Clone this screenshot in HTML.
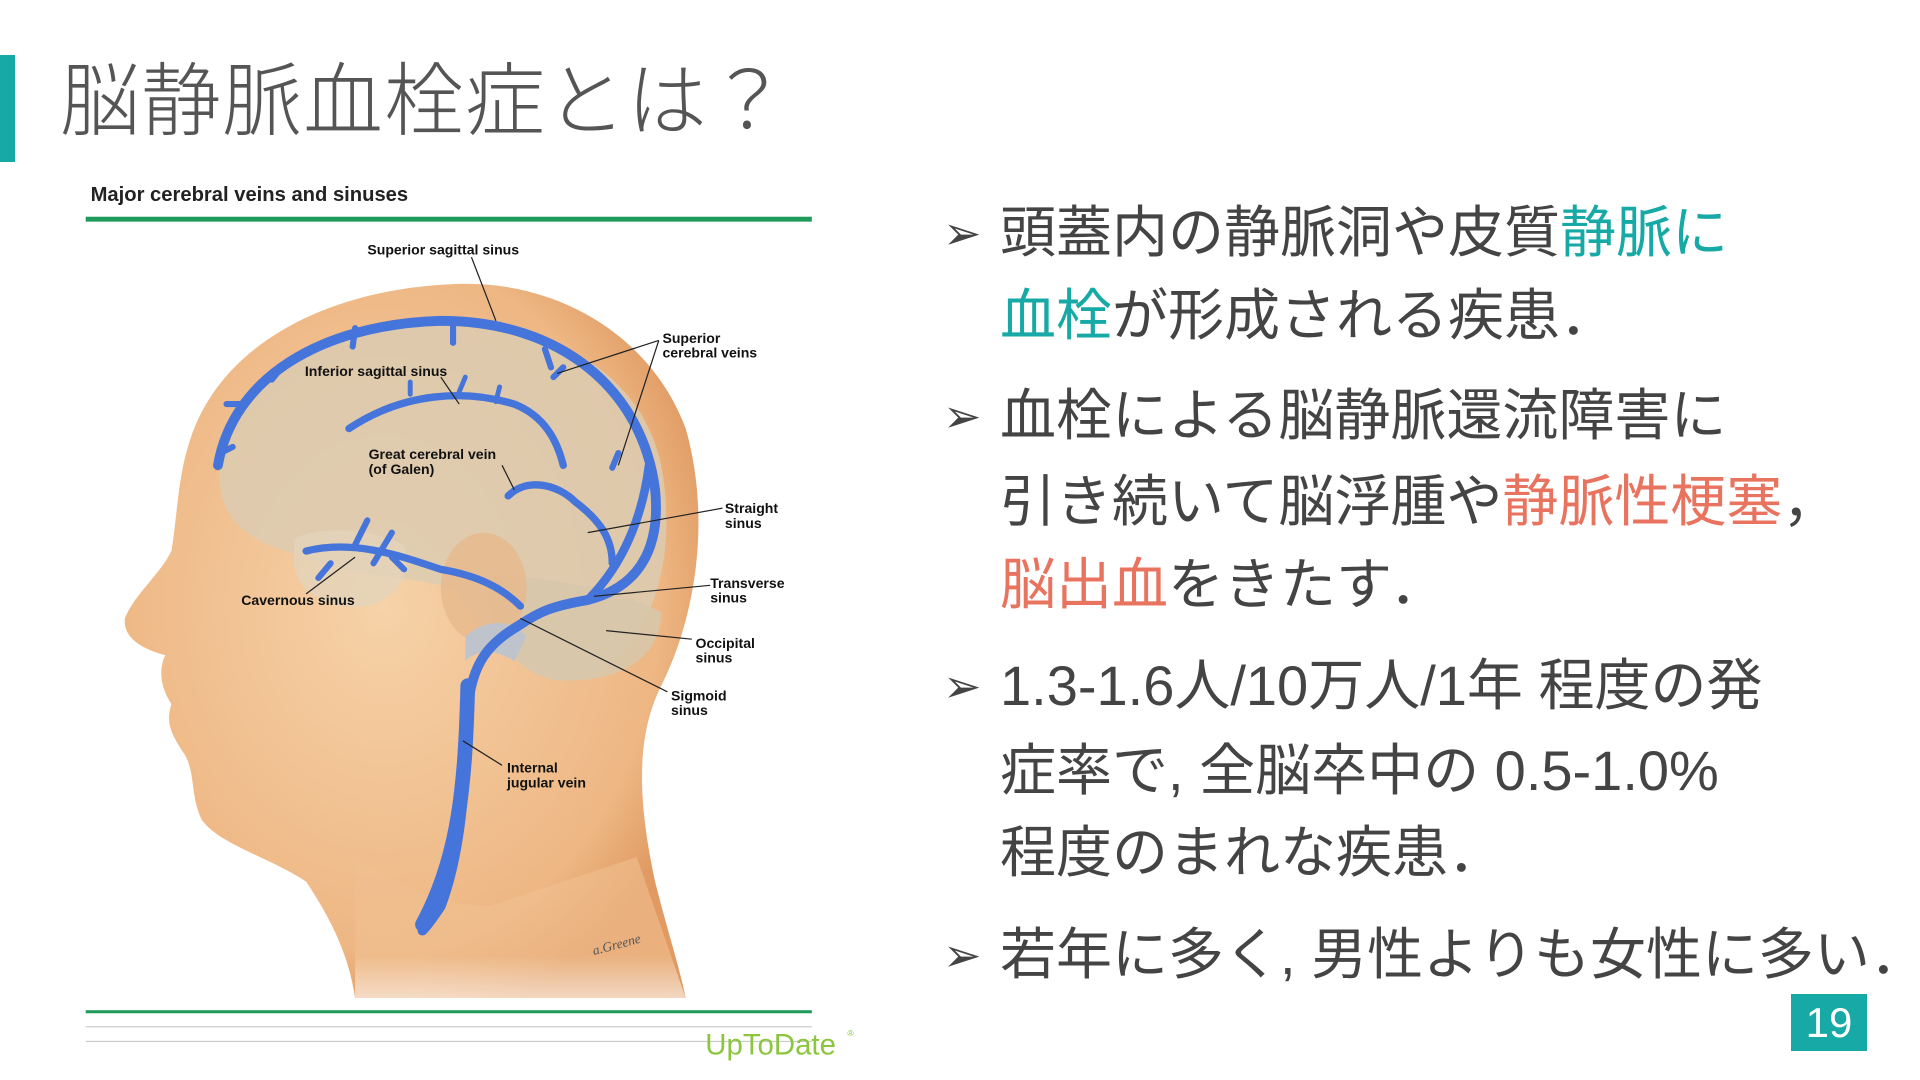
<!DOCTYPE html>
<html><head><meta charset="utf-8">
<style>
html,body{margin:0;padding:0;background:#fff;}
body{width:1920px;height:1080px;position:relative;overflow:hidden;font-family:"Liberation Sans","Noto Sans CJK JP",sans-serif;}
.bar{position:absolute;left:0;top:55px;width:15px;height:107px;background:#17a9a5;}
.title{position:absolute;left:60px;top:52px;font-size:80px;color:#555;font-weight:300;letter-spacing:1px;line-height:100px;}
.bl{position:absolute;left:943px;font-size:56px;color:#444;line-height:84px;white-space:nowrap;}
.bl .a{position:absolute;left:0;font-size:46px;}
.bl .t{position:absolute;left:57px;}
.c{color:#17a9a5}.r{color:#e8735f}
.pg{position:absolute;left:1791px;top:994px;width:76px;height:57px;background:#17a9a5;color:#fff;font-size:42px;text-align:center;line-height:57px;}
svg{position:absolute;left:0;top:0;}
</style></head><body>
<div class="bar"></div>
<div class="title">脳静脈血栓症とは？</div>

<svg width="1920" height="1080" viewBox="0 0 1568 882">
<defs>
<radialGradient id="sk" cx="0.45" cy="0.45" r="0.6"><stop offset="0" stop-color="#f6d2a8"/><stop offset="0.8" stop-color="#eeb784"/><stop offset="1" stop-color="#e09a62"/></radialGradient>
<linearGradient id="nk" x1="0" y1="0" x2="0" y2="1"><stop offset="0.7" stop-color="#f0c090"/><stop offset="1" stop-color="#fff"/></linearGradient>
</defs>
<text x="74" y="164" font-size="16.5" font-weight="bold" fill="#222" font-family="Liberation Sans">Major cerebral veins and sinuses</text>
<rect x="70" y="177" width="593" height="4" fill="#1e9b5a"/>
<path d="M370 232 C450 228 530 270 560 350 C580 420 570 500 540 560 C520 600 520 650 535 720 C545 760 555 790 560 815 L290 815 C285 780 270 750 250 720 C220 700 180 690 165 670 C155 650 160 630 150 615 C140 600 135 590 140 575 C130 560 130 545 135 535 C115 530 100 520 102 505 C110 485 130 470 140 450 C145 420 145 390 155 360 C180 280 270 236 370 232 Z" fill="url(#sk)"/>
<path d="M290 700 C320 720 360 740 400 740 L520 700 L560 815 L290 815 Z" fill="url(#nk)" opacity="0.6"/>
<path d="M180 400 C170 330 230 280 330 268 C430 258 520 290 540 380 C555 460 530 540 470 555 C430 560 400 520 370 480 C330 470 280 470 250 455 C210 445 185 430 180 400 Z" fill="#dccbb2" opacity="0.85"/>
<path d="M400 470 C440 470 500 480 540 500 C540 540 500 560 450 555 C410 545 395 500 400 470 Z" fill="#d8c6ab" opacity="0.9"/>
<path d="M240 440 C260 430 300 430 330 445 C340 470 320 490 300 495 C265 500 240 480 240 460 Z" fill="#e4d3ba" opacity="0.8"/>
<ellipse cx="395" cy="480" rx="35" ry="45" fill="#e7b98c" opacity="0.8"/>
<path d="M380 520 C395 505 420 505 430 520 L420 540 C405 530 390 530 380 540 Z" fill="#bfc4cc"/>
<g fill="none" stroke="#4574da" stroke-linecap="round">
<path d="M178 380 C190 310 260 265 360 262 C460 262 525 320 535 400 C540 450 520 480 480 490 C450 495 440 500 425 510 C400 525 385 540 382 580 C380 650 375 700 360 740 C350 755 345 760 345 760" stroke-width="8"/>
<path d="M382 560 C380 640 375 700 345 755" stroke-width="12"/>
<path d="M285 350 C330 320 380 318 420 330 C445 340 455 360 460 380" stroke-width="6"/>
<path d="M415 405 C430 390 455 395 470 410 C490 425 500 440 500 460" stroke-width="6"/>
<path d="M480 490 C510 460 525 420 530 380" stroke-width="7"/>
<path d="M250 450 C290 440 330 455 360 465 C390 470 410 480 425 495" stroke-width="6"/>
<path d="M290 445 l10 -20 M305 460 l15 -25 M270 460 l-10 12 M320 455 l10 10" stroke-width="5"/>
<path d="M230 300 l-8 10 M290 268 l-2 15 M370 265 l0 15 M445 285 l5 15 M200 330 l-15 0 M190 365 l-10 5 M505 370 l-5 12 M460 300 l-8 8" stroke-width="5"/>
<path d="M335 322 l0 -10 M375 320 l5 -12 M405 328 l3 -12" stroke-width="4"/>
</g>
<g stroke="#222" stroke-width="1" fill="none">
<path d="M385 210 L405 262"/><path d="M360 308 L375 330"/>
<path d="M538 278 L455 305 M538 278 L505 380"/>
<path d="M590 415 L480 435"/><path d="M580 478 L485 487"/>
<path d="M565 522 L495 515"/><path d="M545 565 L425 505"/>
<path d="M410 625 L378 605"/><path d="M410 380 L420 400"/>
<path d="M250 485 L290 455"/>
</g>
<g font-family="Liberation Sans" font-weight="bold" font-size="11.5" fill="#111">
<text x="300" y="208">Superior sagittal sinus</text>
<text x="249" y="307">Inferior sagittal sinus</text>
<text x="541" y="280">Superior</text><text x="541" y="292">cerebral veins</text>
<text x="301" y="375">Great cerebral vein</text><text x="301" y="387">(of Galen)</text>
<text x="592" y="419">Straight</text><text x="592" y="431">sinus</text>
<text x="580" y="480">Transverse</text><text x="580" y="492">sinus</text>
<text x="197" y="494">Cavernous sinus</text>
<text x="568" y="529">Occipital</text><text x="568" y="541">sinus</text>
<text x="548" y="572">Sigmoid</text><text x="548" y="584">sinus</text>
<text x="414" y="631">Internal</text><text x="414" y="643">jugular vein</text>
</g>
<text x="485" y="780" font-size="11" font-style="italic" fill="#555" transform="rotate(-15 485 780)" font-family="Liberation Serif">a.Greene</text>
<rect x="70" y="825" width="593" height="2.5" fill="#1e9b5a"/>
<rect x="70" y="838" width="593" height="1" fill="#ccc"/>
<rect x="70" y="850" width="593" height="1" fill="#ccc"/>
<text x="576" y="861" font-size="24" fill="#8cc63f" font-family="Liberation Sans">UpToDate</text>
<text x="692" y="846" font-size="7" fill="#8cc63f">®</text>
</svg>

<div class="bl" style="top:191px"><span class="a">➢</span><span class="t">頭蓋内の静脈洞や皮質<span class="c">静脈に</span></span></div>
<div class="bl" style="top:274px"><span class="t"><span class="c">血栓</span>が形成される疾患．</span></div>
<div class="bl" style="top:374px"><span class="a">➢</span><span class="t">血栓による脳静脈還流障害に</span></div>
<div class="bl" style="top:460px"><span class="t">引き続いて脳浮腫や<span class="r">静脈性梗塞</span>，</span></div>
<div class="bl" style="top:543px"><span class="t"><span class="r">脳出血</span>をきたす．</span></div>
<div class="bl" style="top:644px"><span class="a">➢</span><span class="t">1.3-1.6人/10万人/1年 程度の発</span></div>
<div class="bl" style="top:729px"><span class="t">症率で, 全脳卒中の 0.5-1.0%</span></div>
<div class="bl" style="top:811px"><span class="t">程度のまれな疾患．</span></div>
<div class="bl" style="top:913px"><span class="a">➢</span><span class="t">若年に多く, 男性よりも女性に多い．</span></div>
<div class="pg">19</div>
</body></html>
